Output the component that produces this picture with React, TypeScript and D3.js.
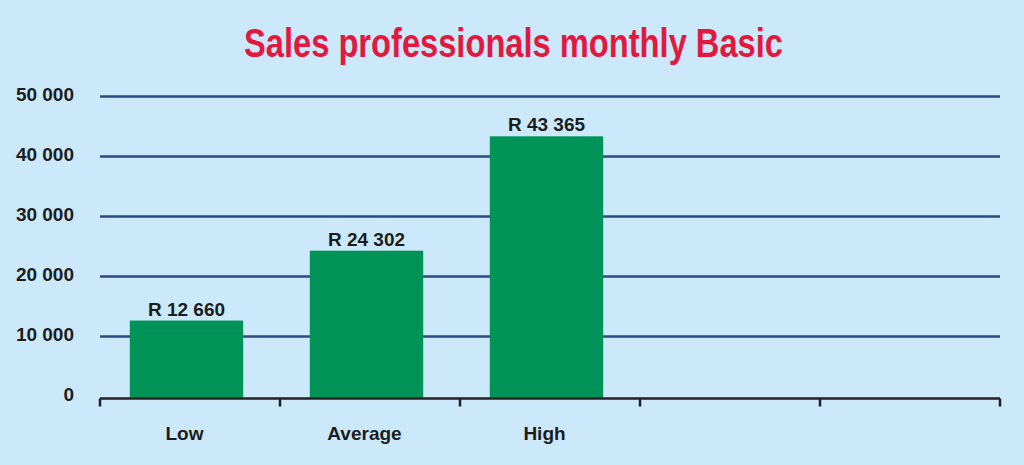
import React, { useEffect } from "react";
import * as d3 from "d3";

const title = "Sales professionals monthly Basic";
const categories = ["Low", "Average", "High"];
const slotCount = 5;
const values = [12660, 24302, 43365];
const valueLabels = ["R 12 660", "R 24 302", "R 43 365"];
const yTicks = [0, 10000, 20000, 30000, 40000, 50000];
const yTickLabels = ["0", "10 000", "20 000", "30 000", "40 000", "50 000"];

const W = 1024;
const H = 465;
const BG = "#cbe9fa";
const FONT = "'Liberation Sans', Arial, Helvetica, sans-serif";

export default function App() {
  useEffect(() => {
    document.body.style.margin = "0";
  }, []);

  const slots = d3.range(slotCount).map(String);
  const y = d3.scaleLinear().domain([0, 50000]).range([396.5, 96.5]);
  const xTicks = d3.scaleBand().domain(slots).range([100, 1000]).paddingInner(0).paddingOuter(0);
  const xBars = d3
    .scaleBand()
    .domain(slots)
    .range([96.5, 996.5])
    .paddingInner(0.37)
    .paddingOuter(0.185);
  const axisY = 398.5;
  const tickPositions = [...slots.map((s) => xTicks(s) as number), xTicks.range()[1]];

  return (
    <svg width={W} height={H} style={{ display: "block" }} fontFamily={FONT}>
      <rect x={0} y={0} width={W} height={H} fill={BG} />
      <text
        x={513.5}
        y={57}
        textAnchor="middle"
        fontSize={40}
        fontWeight="bold"
        fill="#e3183f"
        textLength={539}
        lengthAdjust="spacingAndGlyphs"
      >
        {title}
      </text>
      {yTicks.map((t, i) => (
        <g key={t}>
          {t !== 0 && (
            <line x1={100} x2={1000} y1={y(t)} y2={y(t)} stroke="#2b4a84" strokeWidth={2.5} />
          )}
          <text x={74} y={y(t) + 4.5} textAnchor="end" fontSize={19} fontWeight="bold" fill="#1c1c1c">
            {yTickLabels[i]}
          </text>
        </g>
      ))}
      {values.map((v, i) => {
        const x0 = xBars(String(i)) as number;
        const bw = xBars.bandwidth();
        return (
          <g key={categories[i]}>
            <rect x={x0} y={y(v)} width={bw} height={axisY - y(v)} fill="#009357" />
            <text
              x={x0 + bw / 2}
              y={y(v) - 5}
              textAnchor="middle"
              fontSize={19}
              fontWeight="bold"
              fill="#1c1c1c"
            >
              {valueLabels[i]}
            </text>
          </g>
        );
      })}
      <line x1={100} x2={1000} y1={axisY} y2={axisY} stroke="#222" strokeWidth={2.5} />
      {tickPositions.map((p, i) => (
        <line key={i} x1={p} x2={p} y1={axisY} y2={406.5} stroke="#222" strokeWidth={2.5} />
      ))}
      {categories.map((c, i) => {
        const x0 = xBars(String(i)) as number;
        return (
          <text
            key={c}
            x={x0 + xBars.bandwidth() / 2 - 2}
            y={440}
            textAnchor="middle"
            fontSize={19}
            fontWeight="bold"
            fill="#1c1c1c"
          >
            {c}
          </text>
        );
      })}
    </svg>
  );
}
